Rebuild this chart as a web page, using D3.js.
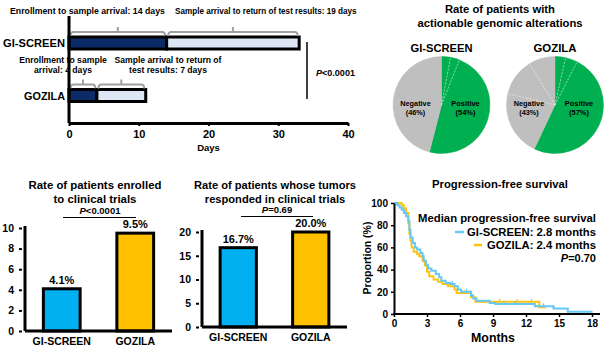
<!DOCTYPE html>
<html>
<head>
<meta charset="utf-8">
<script src="https://cdn.jsdelivr.net/npm/d3@7"></script>
<style>
  html, body { margin: 0; padding: 0; background: #fff; }
  svg { display: block; font-family: Arial, "Liberation Sans", sans-serif; font-weight: bold; }
</style>
</head>
<body>
<div id="chart"></div>
<script>
'use strict';

// ---- data ----
const GROUPS = ['GI-SCREEN', 'GOZILA'];

// turnaround (days): enrollment->arrival, arrival->results
const tatPhase1 = [14, 4];
const tatPhase2 = [19, 7];
const dayTicks = [0, 10, 20, 30, 40];

// actionable alterations pies (sub-slices, percent)
const gsPositive = [3, 3, 48];
const gsNegative = [46];
const gzPositive = [3.5, 4, 49.5];
const gzNegative = [21.7, 12.5, 8.8];
const posLabels = ['54%', '57%'];
const negLabels = ['46%', '43%'];

// enrolled / response rates (%)
const enrolledRate = [4.1, 9.5];
const enrolledTicks = [0, 2, 4, 6, 8, 10];
const responseRate = [16.7, 20.0];
const responseTicks = [0, 5, 10, 15, 20];

// PFS step curves [month, %]
const gsPfs = [[0,100],[0.3,98],[0.5,96],[0.7,94],[0.9,91],[1.1,88],[1.3,84],[1.4,76],[1.5,69],[1.7,64],[1.9,60],[2.1,58],[2.4,55],[2.6,52],[2.7,48],[2.9,44],[3.1,41],[3.4,39],[3.8,36],[4.1,33],[4.3,30],[4.7,28],[5.1,27],[5.5,25],[5.8,22],[6.1,20],[7.0,17],[7.2,14],[7.5,12],[8.7,10],[9.2,9],[12.8,7],[14.5,5],[15.8,2],[18.05,2]];
const gzPfs = [[0,100],[0.7,98],[0.9,95],[1.1,91],[1.3,82],[1.4,72],[1.5,66],[1.6,60],[1.8,56],[2.1,54],[2.3,52],[2.6,48],[2.8,44],[3.0,38],[3.2,34],[3.6,31],[4.0,29],[4.4,27],[4.9,25],[5.5,22],[5.7,19],[7.0,15],[7.4,11],[13.2,6],[13.8,6]];
const gsCensor = [[5.3,27],[6.6,20],[10.0,9],[11.0,9],[13.6,7]];
const gzCensor = [[6.4,19],[9.6,11],[11.2,11],[12.5,11]];
const monthTicks = [0, 3, 6, 9, 12, 15, 18];
const pctTicks = [0, 20, 40, 60, 80, 100];

const C = {
  navy: '#0b2a66', light: '#dce6f4', green: '#00b050', gray: '#bfbfbf',
  blue: '#00b0f0', yellow: '#ffc000', kmBlue: '#66c8f4', kmYellow: '#ffc20e'
};

const svg = d3.select('#chart').append('svg').attr('width', 605).attr('height', 351);

function textLines(g, lines, x, y, lh, size, anchor) {
  const t = g.append('text').attr('x', x).attr('y', y)
    .attr('text-anchor', anchor || 'middle').attr('font-size', size);
  lines.forEach((s, i) => t.append('tspan').attr('x', x).attr('dy', i ? lh : 0).text(s));
  return t;
}

// scale font so the widest line spans w px (as in the reference)
function fit(t, w) {
  const s = +t.attr('font-size');
  const bw = t.node().getBBox().width;
  if (bw > 0) t.attr('font-size', (s * w / bw).toFixed(2));
  return t;
}

// ---- turnaround chart ----
(function () {
  const g = svg.append('g');
  const x = d3.scaleLinear().domain([0, 40]).range([69, 348]);
  const y = d3.scalePoint().domain(GROUPS).range([43, 95.5]);
  const bh = 12;
  const labelW = [62, 41];

  GROUPS.forEach((name, i) => {
    const segs = [[0, tatPhase1[i]], [tatPhase1[i], tatPhase1[i] + tatPhase2[i]]];
    const top = y(name) - bh / 2;
    segs.forEach(([a, b], j) => {
      g.append('rect')
        .attr('x', x(a)).attr('y', top).attr('width', x(b) - x(a)).attr('height', bh)
        .attr('fill', j === 0 ? C.navy : C.light)
        .attr('stroke', '#000').attr('stroke-width', 3);
      const by = top - 5, x0 = x(a) + 1.5, x1 = x(b) - 1.5, xm = x((a + b) / 2);
      g.append('path')
        .attr('d', `M${x0},${by + 4}Q${x0},${by} ${x0 + 3},${by}L${x1 - 3},${by}Q${x1},${by} ${x1},${by + 4}M${xm},${by}L${xm},${by - 5}`)
        .attr('fill', 'none').attr('stroke', '#a0a0a0').attr('stroke-width', 2);
    });
    fit(g.append('text').attr('x', 65).attr('y', y(name) + 4).attr('text-anchor', 'end')
      .attr('font-size', 11).text(name), labelW[i]);
  });

  g.append('line').attr('x1', x(0)).attr('x2', x(0)).attr('y1', 16).attr('y2', 123)
    .attr('stroke', '#000').attr('stroke-width', 3);
  const ax = g.append('g').attr('transform', 'translate(0,123)')
    .call(d3.axisBottom(x).tickValues(dayTicks).tickSize(3).tickSizeOuter(0).tickPadding(4));
  ax.select('.domain').attr('stroke-width', 3);
  ax.selectAll('.tick line').attr('stroke-width', 2);
  ax.selectAll('.tick text').attr('font-size', 11).attr('font-family', null);
  g.append('text').attr('x', x(20)).attr('y', 151).attr('text-anchor', 'middle')
    .attr('font-size', 9.5).text('Days');

  fit(g.append('text').attr('x', 10).attr('y', 13.5).attr('font-size', 9)
    .text('Enrollment to sample arrival: 14 days'), 155);
  fit(g.append('text').attr('x', 175).attr('y', 13.5).attr('font-size', 9)
    .text('Sample arrival to return of test results: 19 days'), 182);
  fit(textLines(g, ['Enrollment to sample', 'arrival: 4 days'], 63, 63, 10, 9), 88);
  fit(textLines(g, ['Sample arrival to return of', 'test results: 7 days'], 168, 63, 10, 9), 108);

  g.append('line').attr('x1', 307).attr('x2', 307).attr('y1', 42).attr('y2', 99)
    .attr('stroke', '#000').attr('stroke-width', 1.5);
  const p = g.append('text').attr('x', 316).attr('y', 76).attr('font-size', 9);
  p.append('tspan').attr('font-style', 'italic').text('P');
  p.append('tspan').text('<0.0001');
  fit(p, 39);
})();

// ---- pies ----
(function () {
  const g = svg.append('g');
  fit(textLines(g, ['Rate of patients with', 'actionable genomic alterations'], 500, 13, 13.5, 11), 165);
  const r = 48.5;
  const arc = d3.arc().innerRadius(0).outerRadius(r);
  const pie = d3.pie().sort(null).value(d => d.v);
  const specs = [
    { name: GROUPS[0], cx: 441.5, pos: gsPositive, neg: gsNegative },
    { name: GROUPS[1], cx: 555, pos: gzPositive, neg: gzNegative }
  ];
  specs.forEach((s, i) => {
    const cy = 105;
    const pg = g.append('g').attr('transform', `translate(${s.cx},${cy})`);
    const items = s.pos.map((v, k) => ({ v, kind: 'pos', first: k === 0 }))
      .concat(s.neg.map((v, k) => ({ v, kind: 'neg', first: k === 0 })));
    const arcs = pie(items);
    pg.selectAll('path.slice').data(arcs).join('path').attr('class', 'slice')
      .attr('d', arc)
      .attr('fill', d => d.data.kind === 'pos' ? C.green : C.gray)
      .attr('stroke', d => d.data.kind === 'pos' ? C.green : C.gray).attr('stroke-width', 0.5);
    pg.selectAll('line.div').data(arcs.filter(d => !d.data.first)).join('line').attr('class', 'div')
      .attr('x1', 0).attr('y1', 0)
      .attr('x2', d => r * Math.sin(d.startAngle)).attr('y2', d => -r * Math.cos(d.startAngle))
      .attr('stroke', '#fff').attr('stroke-width', 0.7).attr('stroke-dasharray', '2,1.5').attr('opacity', 0.7);
    fit(g.append('text').attr('x', s.cx).attr('y', 52).attr('text-anchor', 'middle')
      .attr('font-size', 11.5).text(s.name), i ? 43 : 62);
    fit(textLines(pg, ['Negative', `(${negLabels[i]})`], -26, 1, 9, 8), 31);
    fit(textLines(pg, ['Positive', `(${posLabels[i]})`], 24, 1, 9, 8), 29);
  });
})();

// ---- bar charts ----
function barChart(opts) {
  const g = svg.append('g');
  const x = d3.scaleBand().domain(GROUPS).range([opts.x0, opts.x1]).paddingInner(0.5).paddingOuter(0.25);
  const y = d3.scaleLinear().domain(opts.domain).range([opts.yb, opts.yt]);
  fit(textLines(g, opts.title, opts.tx, 189, 13.5, 11), opts.tw);
  const p = g.append('text').attr('x', opts.px).attr('y', opts.py).attr('text-anchor', 'middle').attr('font-size', 9.5);
  p.append('tspan').attr('font-style', 'italic').text('P');
  p.append('tspan').text(opts.ptext);
  g.append('line').attr('x1', opts.pl[0]).attr('x2', opts.pl[1]).attr('y1', opts.py + 3.5).attr('y2', opts.py + 3.5)
    .attr('stroke', '#000').attr('stroke-width', 1.2);

  g.selectAll('rect.bar').data(opts.values).join('rect').attr('class', 'bar')
    .attr('x', (d, i) => x(GROUPS[i])).attr('width', x.bandwidth())
    .attr('y', d => y(d)).attr('height', d => y(0) - y(d))
    .attr('fill', (d, i) => i ? C.yellow : C.blue)
    .attr('stroke', '#000').attr('stroke-width', 3);
  g.selectAll('text.val').data(opts.values).join('text').attr('class', 'val')
    .attr('x', (d, i) => x(GROUPS[i]) + x.bandwidth() / 2).attr('y', d => y(d) - 5)
    .attr('text-anchor', 'middle').attr('font-size', 11)
    .text(d => d.toFixed(1) + '%');

  const ay = g.append('g').attr('transform', `translate(${opts.x0},0)`)
    .call(d3.axisLeft(y).tickValues(opts.ticks).tickSize(3).tickPadding(8).tickSizeOuter(0));
  ay.select('.domain').attr('stroke-width', 3);
  ay.selectAll('.tick line').attr('stroke-width', 2).attr('transform', 'translate(-3,0)');
  ay.selectAll('.tick text').attr('font-size', 10.5).attr('font-family', null);
  ay.select('.domain').attr('d', `M0,${opts.yt - 2}V${opts.yb}`);

  g.append('line').attr('x1', opts.x0).attr('x2', opts.x1).attr('y1', opts.yb).attr('y2', opts.yb)
    .attr('stroke', '#000').attr('stroke-width', 3);
  g.selectAll('text.cat').data(GROUPS).join('text').attr('class', 'cat')
    .attr('x', d => x(d) + x.bandwidth() / 2).attr('y', opts.yb + 14)
    .attr('text-anchor', 'middle').attr('font-size', 10.5).text(d => d);
}

barChart({
  title: ['Rate of patients enrolled', 'to clinical trials'], tx: 95, tw: 133,
  x0: 25, x1: 172, yb: 331, yt: 228, domain: [0, 10], ticks: enrolledTicks,
  values: enrolledRate, ptext: '<0.0001', px: 100, py: 214, pl: [63, 136]
});
barChart({
  title: ['Rate of patients whose tumors', 'responded in clinical trials'], tx: 275, tw: 162,
  x0: 202, x1: 347, yb: 327, yt: 232, domain: [0, 20], ticks: responseTicks,
  values: responseRate, ptext: '=0.69', px: 277, py: 213, pl: [241, 313]
});

// ---- PFS ----
(function () {
  const g = svg.append('g');
  const x = d3.scaleLinear().domain([0, 18]).range([394, 592]);
  const y = d3.scaleLinear().domain([0, 100]).range([314, 203]);
  fit(g.append('text').attr('x', 500).attr('y', 188).attr('text-anchor', 'middle')
    .attr('font-size', 11).text('Progression-free survival'), 136);

  const line = d3.line().x(d => x(d[0])).y(d => y(d[1])).curve(d3.curveStepAfter);
  [[gsPfs, gsCensor, C.kmBlue], [gzPfs, gzCensor, C.kmYellow]].reverse().forEach(([pts, cen, col]) => {
    g.append('path').datum(pts).attr('d', line)
      .attr('fill', 'none').attr('stroke', col).attr('stroke-width', 2);
    g.selectAll(null).data(cen).join('line')
      .attr('x1', d => x(d[0])).attr('x2', d => x(d[0]))
      .attr('y1', d => y(d[1]) - 3).attr('y2', d => y(d[1]) + 1)
      .attr('stroke', col).attr('stroke-width', 1.2);
  });

  const ax = g.append('g').attr('transform', 'translate(0,314)')
    .call(d3.axisBottom(x).tickValues(monthTicks).tickSize(3).tickSizeOuter(0).tickPadding(3));
  ax.select('.domain').attr('d', `M${x(0) - 1},0H600`).attr('stroke-width', 2);
  ax.selectAll('.tick line').attr('stroke-width', 1.5);
  ax.selectAll('.tick text').attr('font-size', 10).attr('font-family', null);
  const ay = g.append('g').attr('transform', `translate(${x(0)},0)`)
    .call(d3.axisLeft(y).tickValues(pctTicks).tickSize(3).tickSizeOuter(0).tickPadding(3));
  ay.select('.domain').attr('stroke-width', 2);
  ay.selectAll('.tick line').attr('stroke-width', 1.5);
  ay.selectAll('.tick text').attr('font-size', 10).attr('font-family', null);

  fit(g.append('text').attr('x', x(9)).attr('y', 342).attr('text-anchor', 'middle')
    .attr('font-size', 12.5).text('Months'), 44);
  g.append('text').attr('transform', 'translate(371,258) rotate(-90)').attr('text-anchor', 'middle')
    .attr('font-size', 10.5).text('Proportion (%)');

  const lx = 596;
  const leg = [
    ['Median progression-free survival', 222, 178],
    ['GI-SCREEN: 2.8 months', 236, 129],
    ['GOZILA: 2.4 months', 249, 109]
  ];
  leg.forEach(([s, ly, w]) => fit(g.append('text').attr('x', lx).attr('y', ly)
    .attr('text-anchor', 'end').attr('font-size', 11).text(s), w));
  const p = g.append('text').attr('x', lx).attr('y', 262).attr('text-anchor', 'end').attr('font-size', 11);
  p.append('tspan').attr('font-style', 'italic').text('P');
  p.append('tspan').text('=0.70');
  g.append('line').attr('x1', 455).attr('x2', 464).attr('y1', 232).attr('y2', 232)
    .attr('stroke', C.kmBlue).attr('stroke-width', 2.5);
  g.append('line').attr('x1', 474).attr('x2', 482).attr('y1', 245).attr('y2', 245)
    .attr('stroke', C.kmYellow).attr('stroke-width', 2.5);
})();
</script>
</body>
</html>
